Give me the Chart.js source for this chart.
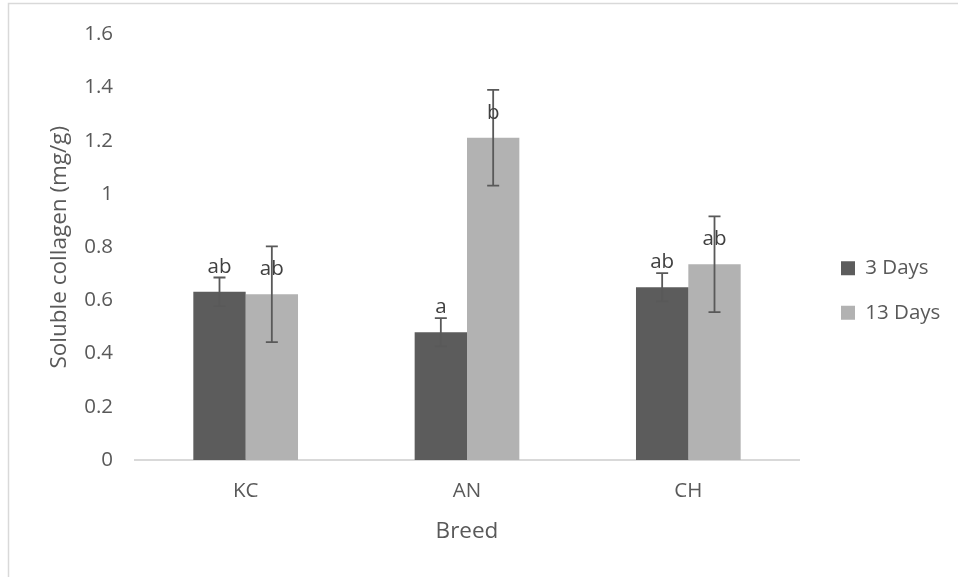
<!DOCTYPE html>
<html>
<head>
<meta charset="utf-8">
<script src="https://cdn.jsdelivr.net/npm/chart.js@4/dist/chart.umd.min.js"></script>
<style>
html,body{margin:0;padding:0;background:#fff;}
#wrap{position:relative;width:958px;height:577px;}
</style>
</head>
<body>
<div id="wrap"><canvas id="c" width="958" height="577"></canvas></div>
<script>
// ---- data ----
const categories = ['KC', 'AN', 'CH'];
const seriesNames = ['3 Days', '13 Days'];
const days3 = [0.632, 0.480, 0.649];
const days13 = [0.623, 1.211, 0.736];
const err3 = [0.054, 0.053, 0.053];
const err13 = [0.180, 0.180, 0.180];
const letters3 = ['ab', 'a', 'ab'];
const letters13 = ['ab', 'b', 'ab'];
const yTickLabels = ['0', '0.2', '0.4', '0.6', '0.8', '1', '1.2', '1.4', '1.6'];
const yTitle = 'Soluble collagen (mg/g)';
const xTitle = 'Breed';

const FONT = '"Open Sans"';
const TXT = '#595959';
const TICK_FONT = 20.5;
const TITLE_FONT = 22.5;
const LEG_FONT = 20.5;
const LEG_PAD = 24;
const LEG_BOX = 14;

// compute right padding so the legend ends up where the reference has it
const mctx = document.createElement('canvas').getContext('2d');
mctx.font = LEG_FONT + 'px ' + FONT;
const tw = Math.max(...seriesNames.map(s => mctx.measureText(s).width));
const legendW = LEG_PAD + LEG_BOX + LEG_FONT / 2 + tw + 10;
const padRight = Math.max(0, 958 - 817 - legendW);

const errorPlugin = {
  id: 'errs',
  beforeDraw(chart) {
    const ctx = chart.ctx;
    ctx.save();
    ctx.strokeStyle = '#d9d9d9';
    ctx.lineWidth = 1.5;
    ctx.strokeRect(8.5, 3.5, 2000, 2000);
    ctx.restore();
  },
  afterDatasetsDraw(chart) {
    const ctx = chart.ctx;
    const ys = chart.scales.y;
    const errs = [err3, err13];
    const labs = [letters3, letters13];
    chart.data.datasets.forEach((ds, i) => {
      const meta = chart.getDatasetMeta(i);
      meta.data.forEach((bar, j) => {
        const v = ds.data[j];
        const e = errs[i][j];
        const x = bar.x;
        const yT = ys.getPixelForValue(v + e);
        const yB = ys.getPixelForValue(v - e);
        ctx.save();
        ctx.strokeStyle = '#595959';
        ctx.lineWidth = 1.8;
        ctx.beginPath();
        ctx.moveTo(x, yT); ctx.lineTo(x, yB);
        ctx.moveTo(x - 6, yT); ctx.lineTo(x + 6, yT);
        ctx.moveTo(x - 6, yB); ctx.lineTo(x + 6, yB);
        ctx.stroke();
        ctx.restore();
      });
    });
    chart.data.datasets.forEach((ds, i) => {
      const meta = chart.getDatasetMeta(i);
      meta.data.forEach((bar, j) => {
        ctx.save();
        ctx.fillStyle = '#404040';
        ctx.font = TICK_FONT + 'px ' + FONT;
        ctx.textAlign = 'center';
        ctx.textBaseline = 'middle';
        ctx.fillText(labs[i][j], bar.x, bar.y - 25);
        ctx.restore();
      });
    });
  }
};

Chart.defaults.font.family = FONT;
Chart.defaults.color = TXT;

new Chart(document.getElementById('c'), {
  type: 'bar',
  data: {
    labels: categories,
    datasets: [
      { label: seriesNames[0], data: days3, backgroundColor: '#5c5c5c', borderWidth: 0 },
      { label: seriesNames[1], data: days13, backgroundColor: '#b2b2b2', borderWidth: 0 }
    ]
  },
  options: {
    responsive: false,
    animation: false,
    devicePixelRatio: 1,
    categoryPercentage: 0.473,
    barPercentage: 1.0,
    layout: { padding: { left: 0, top: 4, bottom: 0, right: padRight } },
    plugins: {
      tooltip: { enabled: false },
      legend: {
        position: 'right',
        align: 'center',
        labels: {
          boxWidth: LEG_BOX,
          boxHeight: LEG_BOX,
          padding: LEG_PAD,
          color: TXT,
          font: { size: LEG_FONT, family: FONT }
        }
      }
    },
    scales: {
      x: {
        position: 'bottom',
        grid: { display: false, drawTicks: false },
        border: { display: true, color: '#d9d9d9', width: 2 },
        ticks: { color: TXT, font: { size: TICK_FONT }, padding: 19 },
        title: { display: true, text: xTitle, color: TXT, font: { size: TITLE_FONT }, padding: { top: 0, bottom: 32 } },
        afterFit: s => { s.height = 117; }
      },
      x2: {
        type: 'category',
        labels: categories,
        position: 'top',
        display: true,
        grid: { display: false, drawTicks: false },
        border: { display: false },
        ticks: { display: false },
        afterFit: s => { s.height = 28; }
      },
      y: {
        min: 0, max: 1.6,
        grid: { display: false, drawTicks: false },
        border: { display: false },
        ticks: {
          stepSize: 0.2,
          color: TXT,
          font: { size: TICK_FONT },
          padding: 22,
          callback: (v, i) => yTickLabels[i]
        },
        title: { display: true, text: yTitle, color: TXT, font: { size: TITLE_FONT }, padding: { top: 46, bottom: 0 } },
        afterFit: s => { s.width = 135; }
      },
      y2: {
        type: 'linear',
        position: 'right',
        display: true,
        grid: { display: false, drawTicks: false },
        border: { display: false },
        ticks: { display: false },
        afterFit: s => { s.width = 18; }
      }
    }
  },
  plugins: [errorPlugin]
});
</script>
</body>
</html>
